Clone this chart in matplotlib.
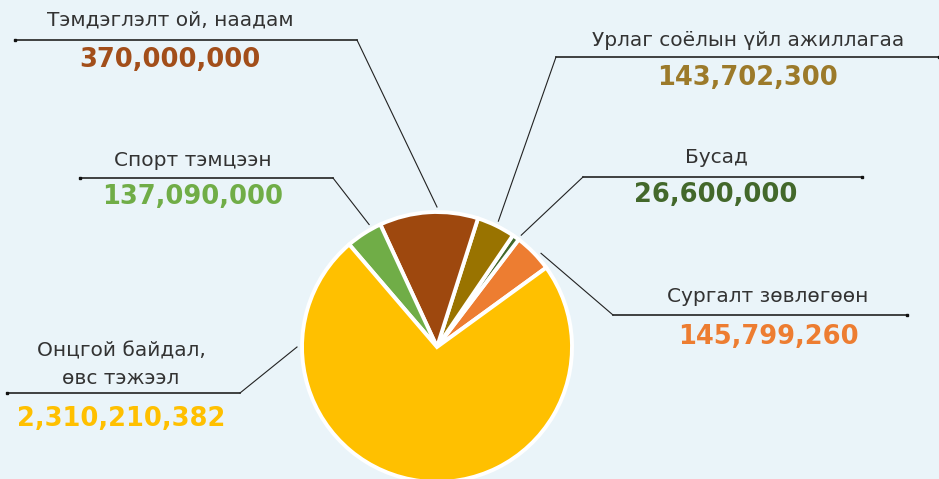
import numpy as np
import matplotlib
matplotlib.use("Agg")
import matplotlib.pyplot as plt

# Өгөгдөл
labels = ["Сургалт зөвлөгөөн", "Бусад", "Урлаг соёлын үйл ажиллагаа",
          "Тэмдэглэлт ой, наадам", "Спорт тэмцээн", "Онцгой байдал,\nөвс тэжээл"]
values = [145799260, 26600000, 143702300, 370000000, 137090000, 2310210382]
colors = ["#ED7D31", "#43682B", "#997300", "#9E480E", "#70AD47", "#FFC000"]
value_colors = ["#ED7D31", "#43682B", "#9C7A2A", "#A24E1A", "#70AD47", "#FFC000"]

BG = "#EAF4F9"
W, H = 939, 479

def Y(py):
    # пикселийн y-г өгөгдлийн координат руу
    return H - py

fig = plt.figure(figsize=(9.39, 4.79), dpi=100, facecolor=BG)
ax = fig.add_axes([0, 0, 1, 1])
ax.set_facecolor(BG)

cx, cy, r = 437, Y(347), 135
ax.pie(values, colors=colors, startangle=36, counterclock=True,
       center=(cx, cy), radius=r, frame=True,
       wedgeprops=dict(edgecolor="white", linewidth=2.8))
ax.set_xlim(0, W)
ax.set_ylim(0, H)
ax.set_aspect("equal")
ax.axis("off")

# шошгоны байрлал: (холбох өнцөг, тохой x, тохой y, хэвтээ шугамын төгсгөл x,
#                  гарчиг x, гарчиг y, утга y)
layout = [
    (42, 613, 315, 907, 768, 297, 337),
    (53, 583, 177, 862, 716, 157, 195),
    (64, 556, 57, 939, 748, 40, 78),
    (90, 357, 40, 15, 170, 20, 60),
    (119, 333, 178, 80, 193, 160, 197),
    (180, 240, 393, 7, 121, 365, 419),
]

for lab, val, col, (ang, ex, ey, hx, tx, ty, vy) in zip(labels, values, value_colors, layout):
    a = np.deg2rad(ang)
    px = cx + (r + 5) * np.cos(a)
    py = cy + (r + 5) * np.sin(a)
    ax.plot([px, ex], [py, Y(ey)], color="#222222", lw=0.8)
    ax.plot([ex, hx], [Y(ey), Y(ey)], color="#222222", lw=1.2)
    ax.plot([hx], [Y(ey)], marker="s", ms=2, color="#111111")
    ax.text(tx, Y(ty), lab, ha="center", va="center", fontsize=14.5,
            color="#333333", linespacing=1.6)
    ax.text(tx, Y(vy), f"{val:,}", ha="center", va="center", fontsize=18.5,
            fontweight="bold", color=col)

fig.savefig("out.png", dpi=100, facecolor=BG)
